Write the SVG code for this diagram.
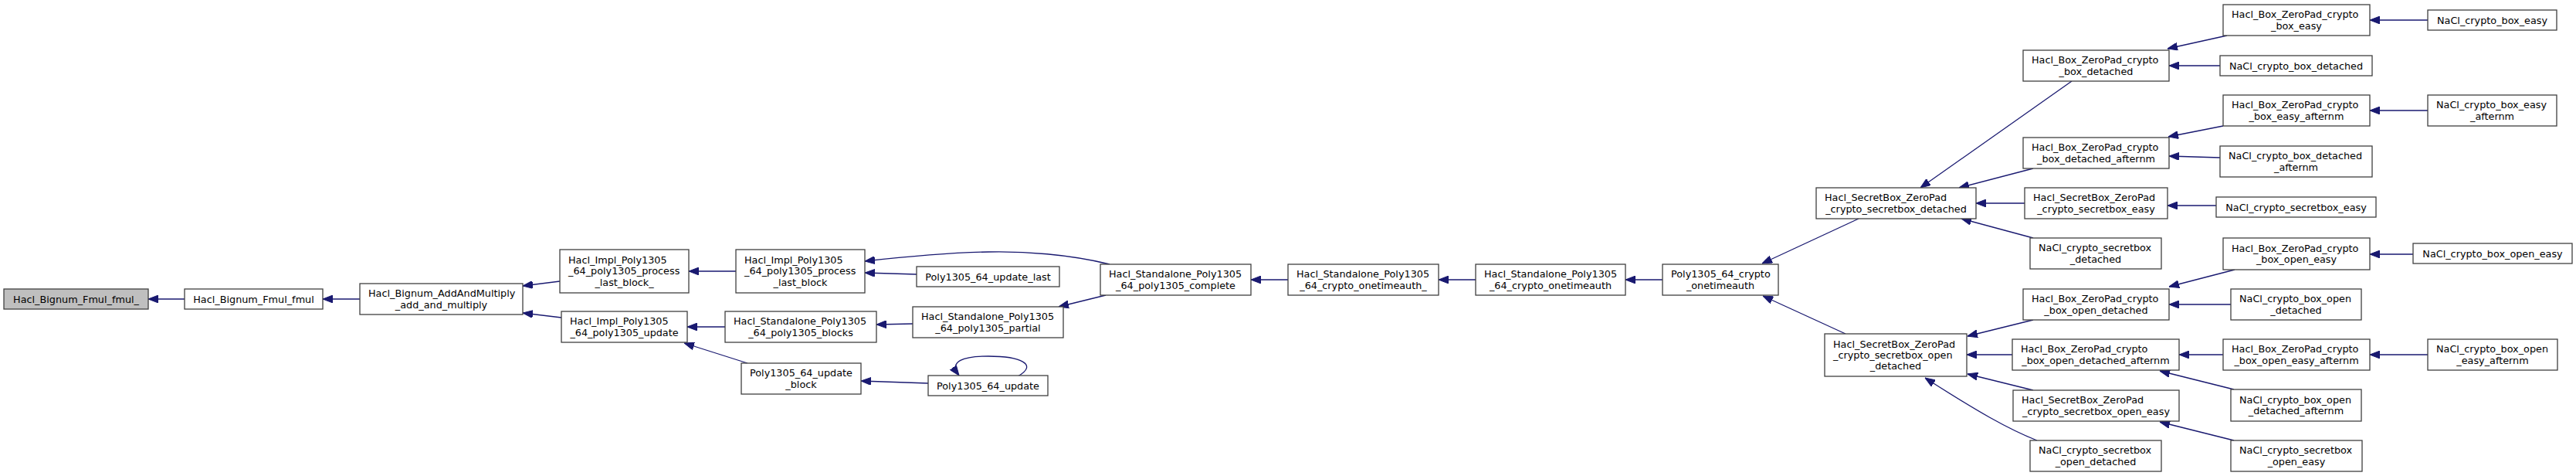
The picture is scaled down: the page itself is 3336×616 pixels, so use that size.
<svg xmlns="http://www.w3.org/2000/svg" width="3336" height="616" viewBox="0 0 3336 616">
<style>
.n rect{fill:#fff;stroke:#404040;stroke-width:1.3}
.n rect.g{fill:#bfbfbf}
text{font-family:"DejaVu Sans","Liberation Sans",sans-serif;font-size:12.8px;fill:#000}
.m{text-anchor:middle}
.e path{fill:none;stroke:#191970;stroke-width:1.3;marker-end:url(#ah)}
</style>
<defs>
<marker id="ah" viewBox="0 0 13 10" refX="13" refY="5" markerUnits="userSpaceOnUse" markerWidth="13" markerHeight="10" orient="auto">
<path d="M0,0 L13,5 L0,10 z" fill="#191970" stroke="#191970" stroke-width="1"/>
</marker>
</defs>
<rect width="3336" height="616" fill="#fff"/>
<g class="e" id="connectors">
<path d="M239,387 L192,387"/>
<path d="M466,387 L418,387"/>
<path d="M725,364 L677,370"/>
<path d="M727,411 L677,405"/>
<path d="M953,351 L892,351"/>
<path d="M939,423 L890,423"/>
<path d="M968,470 L886,444"/>
<path d="M1437,342 C1385,329 1325,325 1280,326 C1225,327 1165,333 1120,338"/>
<path d="M1187,355 L1120,353"/>
<path d="M1432,382 L1371,397"/>
<path d="M1182,419 L1135,420"/>
<path d="M1202,496 L1115,493"/>
<path d="M1318,487 C1345,472 1322,461 1280,461 C1248,461 1228,467 1242,486"/>
<path d="M1668,362 L1620,362"/>
<path d="M1911,362 L1863,362"/>
<path d="M2153,362 L2105,362"/>
<path d="M2407,283 L2282,341"/>
<path d="M2390,432 L2283,383"/>
<path d="M2683,105 L2487,243"/>
<path d="M2633,218 L2537,243"/>
<path d="M2622,263 L2559,263"/>
<path d="M2633,308 L2540,283"/>
<path d="M2633,414 L2548,435"/>
<path d="M2606,459 L2547,459"/>
<path d="M2633,505 L2548,484"/>
<path d="M2638,570 C2600,555 2560,532 2493,489"/>
<path d="M2884,46 L2807,63"/>
<path d="M2875,85 L2809,85"/>
<path d="M2879,163 L2808,177"/>
<path d="M2875,204 L2809,202"/>
<path d="M2870,266 L2807,266"/>
<path d="M2894,349 L2809,371"/>
<path d="M2889,394 L2809,394"/>
<path d="M2879,459 L2822,459"/>
<path d="M2893,504 L2797,480"/>
<path d="M2893,570 L2797,546"/>
<path d="M3144,26 L3069,26"/>
<path d="M3144,143 L3069,143"/>
<path d="M3125,329 L3069,329"/>
<path d="M3144,459 L3069,459"/>
</g>
<g class="n" id="n1"><rect class="g" x="5" y="374" width="187" height="26"/><text class="m" x="98.5" y="391.5">Hacl_Bignum_Fmul_fmul_</text></g>
<g class="n" id="n2"><rect x="239" y="374" width="179" height="26"/><text class="m" x="328.5" y="391.5">Hacl_Bignum_Fmul_fmul</text></g>
<g class="n" id="n3"><rect x="466" y="367" width="211" height="40"/><text x="477" y="384.2">Hacl_Bignum_AddAndMultiply</text><text class="m" x="571.5" y="398.5">_add_and_multiply</text></g>
<g class="n" id="n4"><rect x="725" y="323" width="167" height="56"/><text x="736" y="341">Hacl_Impl_Poly1305</text><text x="736" y="355.3">_64_poly1305_process</text><text class="m" x="808.5" y="369.6">_last_block_</text></g>
<g class="n" id="n5"><rect x="727" y="403" width="163" height="40"/><text x="738" y="420.2">Hacl_Impl_Poly1305</text><text class="m" x="808.5" y="434.5">_64_poly1305_update</text></g>
<g class="n" id="n6"><rect x="953" y="323" width="167" height="56"/><text x="964" y="341">Hacl_Impl_Poly1305</text><text x="964" y="355.3">_64_poly1305_process</text><text class="m" x="1036.5" y="369.6">_last_block</text></g>
<g class="n" id="n7"><rect x="939" y="403" width="196" height="40"/><text x="950" y="420.2">Hacl_Standalone_Poly1305</text><text class="m" x="1037" y="434.5">_64_poly1305_blocks</text></g>
<g class="n" id="n8"><rect x="960" y="470" width="155" height="40"/><text x="971" y="487.2">Poly1305_64_update</text><text class="m" x="1037.5" y="501.5">_block</text></g>
<g class="n" id="n9"><rect x="1187" y="345" width="185" height="26"/><text class="m" x="1279.5" y="362.5">Poly1305_64_update_last</text></g>
<g class="n" id="n10"><rect x="1182" y="397" width="195" height="40"/><text x="1193" y="414.2">Hacl_Standalone_Poly1305</text><text class="m" x="1279.5" y="428.5">_64_poly1305_partial</text></g>
<g class="n" id="n11"><rect x="1202" y="486" width="155" height="26"/><text class="m" x="1279.5" y="503.5">Poly1305_64_update</text></g>
<g class="n" id="n12"><rect x="1425" y="342" width="195" height="40"/><text x="1436" y="359.2">Hacl_Standalone_Poly1305</text><text class="m" x="1522.5" y="373.5">_64_poly1305_complete</text></g>
<g class="n" id="n13"><rect x="1668" y="342" width="195" height="40"/><text x="1679" y="359.2">Hacl_Standalone_Poly1305</text><text class="m" x="1765.5" y="373.5">_64_crypto_onetimeauth_</text></g>
<g class="n" id="n14"><rect x="1911" y="342" width="194" height="40"/><text x="1922" y="359.2">Hacl_Standalone_Poly1305</text><text class="m" x="2008" y="373.5">_64_crypto_onetimeauth</text></g>
<g class="n" id="n15"><rect x="2153" y="342" width="150" height="40"/><text x="2164" y="359.2">Poly1305_64_crypto</text><text class="m" x="2228" y="373.5">_onetimeauth</text></g>
<g class="n" id="n16"><rect x="2352" y="243" width="207" height="40"/><text x="2363" y="260.2">Hacl_SecretBox_ZeroPad</text><text class="m" x="2455.5" y="274.5">_crypto_secretbox_detached</text></g>
<g class="n" id="n17"><rect x="2363" y="432" width="184" height="55"/><text x="2374" y="449.5">Hacl_SecretBox_ZeroPad</text><text x="2374" y="463.8">_crypto_secretbox_open</text><text class="m" x="2455" y="478.1">_detached</text></g>
<g class="n" id="n18"><rect x="2620" y="65" width="189" height="40"/><text x="2631" y="82.2">Hacl_Box_ZeroPad_crypto</text><text class="m" x="2714.5" y="96.5">_box_detached</text></g>
<g class="n" id="n19"><rect x="2620" y="178" width="189" height="40"/><text x="2631" y="195.2">Hacl_Box_ZeroPad_crypto</text><text class="m" x="2714.5" y="209.5">_box_detached_afternm</text></g>
<g class="n" id="n20"><rect x="2622" y="243" width="185" height="40"/><text x="2633" y="260.2">Hacl_SecretBox_ZeroPad</text><text class="m" x="2714.5" y="274.5">_crypto_secretbox_easy</text></g>
<g class="n" id="n21"><rect x="2629" y="308" width="170" height="40"/><text x="2640" y="325.2">NaCl_crypto_secretbox</text><text class="m" x="2714" y="339.5">_detached</text></g>
<g class="n" id="n22"><rect x="2620" y="374" width="189" height="40"/><text x="2631" y="391.2">Hacl_Box_ZeroPad_crypto</text><text class="m" x="2714.5" y="405.5">_box_open_detached</text></g>
<g class="n" id="n23"><rect x="2606" y="439" width="216" height="40"/><text x="2617" y="456.2">Hacl_Box_ZeroPad_crypto</text><text class="m" x="2714" y="470.5">_box_open_detached_afternm</text></g>
<g class="n" id="n24"><rect x="2607" y="505" width="215" height="40"/><text x="2618" y="522.2">Hacl_SecretBox_ZeroPad</text><text class="m" x="2714.5" y="536.5">_crypto_secretbox_open_easy</text></g>
<g class="n" id="n25"><rect x="2629" y="570" width="170" height="40"/><text x="2640" y="587.2">NaCl_crypto_secretbox</text><text class="m" x="2714" y="601.5">_open_detached</text></g>
<g class="n" id="n26"><rect x="2879" y="6" width="190" height="40"/><text x="2890" y="23.2">Hacl_Box_ZeroPad_crypto</text><text class="m" x="2974" y="37.5">_box_easy</text></g>
<g class="n" id="n27"><rect x="2875" y="72" width="197" height="26"/><text class="m" x="2973.5" y="89.5">NaCl_crypto_box_detached</text></g>
<g class="n" id="n28"><rect x="2879" y="123" width="190" height="40"/><text x="2890" y="140.2">Hacl_Box_ZeroPad_crypto</text><text class="m" x="2974" y="154.5">_box_easy_afternm</text></g>
<g class="n" id="n29"><rect x="2875" y="189" width="197" height="40"/><text x="2886" y="206.2">NaCl_crypto_box_detached</text><text class="m" x="2973.5" y="220.5">_afternm</text></g>
<g class="n" id="n30"><rect x="2870" y="255" width="207" height="26"/><text class="m" x="2973.5" y="272.5">NaCl_crypto_secretbox_easy</text></g>
<g class="n" id="n31"><rect x="2879" y="308" width="190" height="41"/><text x="2890" y="325.7">Hacl_Box_ZeroPad_crypto</text><text class="m" x="2974" y="340">_box_open_easy</text></g>
<g class="n" id="n32"><rect x="2889" y="374" width="169" height="40"/><text x="2900" y="391.2">NaCl_crypto_box_open</text><text class="m" x="2973.5" y="405.5">_detached</text></g>
<g class="n" id="n33"><rect x="2879" y="439" width="190" height="40"/><text x="2890" y="456.2">Hacl_Box_ZeroPad_crypto</text><text class="m" x="2974" y="470.5">_box_open_easy_afternm</text></g>
<g class="n" id="n34"><rect x="2889" y="504" width="169" height="41"/><text x="2900" y="521.7">NaCl_crypto_box_open</text><text class="m" x="2973.5" y="536">_detached_afternm</text></g>
<g class="n" id="n35"><rect x="2889" y="570" width="170" height="40"/><text x="2900" y="587.2">NaCl_crypto_secretbox</text><text class="m" x="2974" y="601.5">_open_easy</text></g>
<g class="n" id="n36"><rect x="3144" y="13" width="167" height="26"/><text class="m" x="3227.5" y="30.5">NaCl_crypto_box_easy</text></g>
<g class="n" id="n37"><rect x="3144" y="123" width="167" height="40"/><text x="3155" y="140.2">NaCl_crypto_box_easy</text><text class="m" x="3227.5" y="154.5">_afternm</text></g>
<g class="n" id="n38"><rect x="3125" y="315" width="206" height="26"/><text class="m" x="3228" y="332.5">NaCl_crypto_box_open_easy</text></g>
<g class="n" id="n39"><rect x="3144" y="439" width="168" height="40"/><text x="3155" y="456.2">NaCl_crypto_box_open</text><text class="m" x="3228" y="470.5">_easy_afternm</text></g>
</svg>
